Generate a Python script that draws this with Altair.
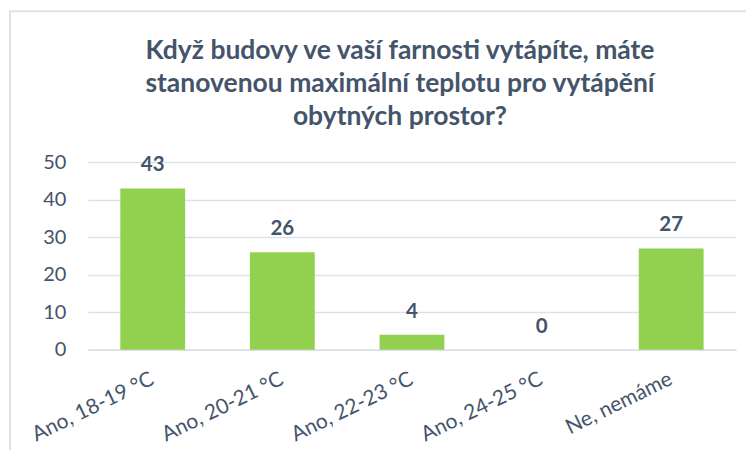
import altair as alt
import pandas as pd

categories = ["Ano, 18-19 °C", "Ano, 20-21 °C", "Ano, 22-23 °C", "Ano, 24-25 °C", "Ne, nemáme"]
values = [43, 26, 4, 0, 27]
y_ticks = [0, 10, 20, 30, 40, 50]
title_lines = ["Když budovy ve vaší farnosti vytápíte, máte",
               "stanovenou maximální teplotu pro vytápění",
               "obytných prostor?"]

df = pd.DataFrame({"kategorie": categories, "pocet": values})

TEXT = "#44546A"
FONT = "Lato"

x_enc = alt.X("kategorie:N", sort=categories, title=None,
              scale=alt.Scale(paddingInner=0.5, paddingOuter=0.25),
              axis=alt.Axis(labelAngle=-26, labelAlign="right", labelBaseline="middle",
                            labelFontSize=21, labelColor=TEXT, labelFont=FONT,
                            labelPadding=28, ticks=False, domainColor="#D9DEE6",
                            domainWidth=1.5))
y_enc = alt.Y("pocet:Q", title=None,
              scale=alt.Scale(domain=[0, 50]),
              axis=alt.Axis(values=y_ticks, ticks=False, domain=False, labelOverlap=False,
                            labelFontSize=20, labelColor=TEXT, labelFont=FONT,
                            labelPadding=22, gridColor="#DDE2E8", gridWidth=1.5))

bars = alt.Chart(df).mark_bar(color="#92D050").encode(x=x_enc, y=y_enc)
labels = alt.Chart(df).mark_text(dy=-13, baseline="bottom", fontSize=20.5, fontWeight="bold",
                                 color=TEXT, font=FONT).encode(
    x=x_enc, y=y_enc, text="pocet:Q")

frame = alt.Chart(pd.DataFrame({"a": [0]})).mark_rect(
    fill="transparent", stroke="#DDE2E8", strokeWidth=2).encode(
    x=alt.value(-78), x2=alt.value(720), y=alt.value(-151), y2=alt.value(320))

chart = alt.layer(frame, bars, labels).properties(
    width=649, height=188,
    autosize=alt.AutoSizeParams(type="none"),
    padding={"left": 80, "top": 154, "right": 10, "bottom": 100},
    title=alt.Title(title_lines, fontSize=26.5, fontWeight="bold", color=TEXT, font=FONT,
                    lineHeight=33, anchor="middle", offset=-120, dx=-12),
).configure_view(stroke=None)

chart.save("out.html", embed_options={"renderer": "svg", "actions": False})
